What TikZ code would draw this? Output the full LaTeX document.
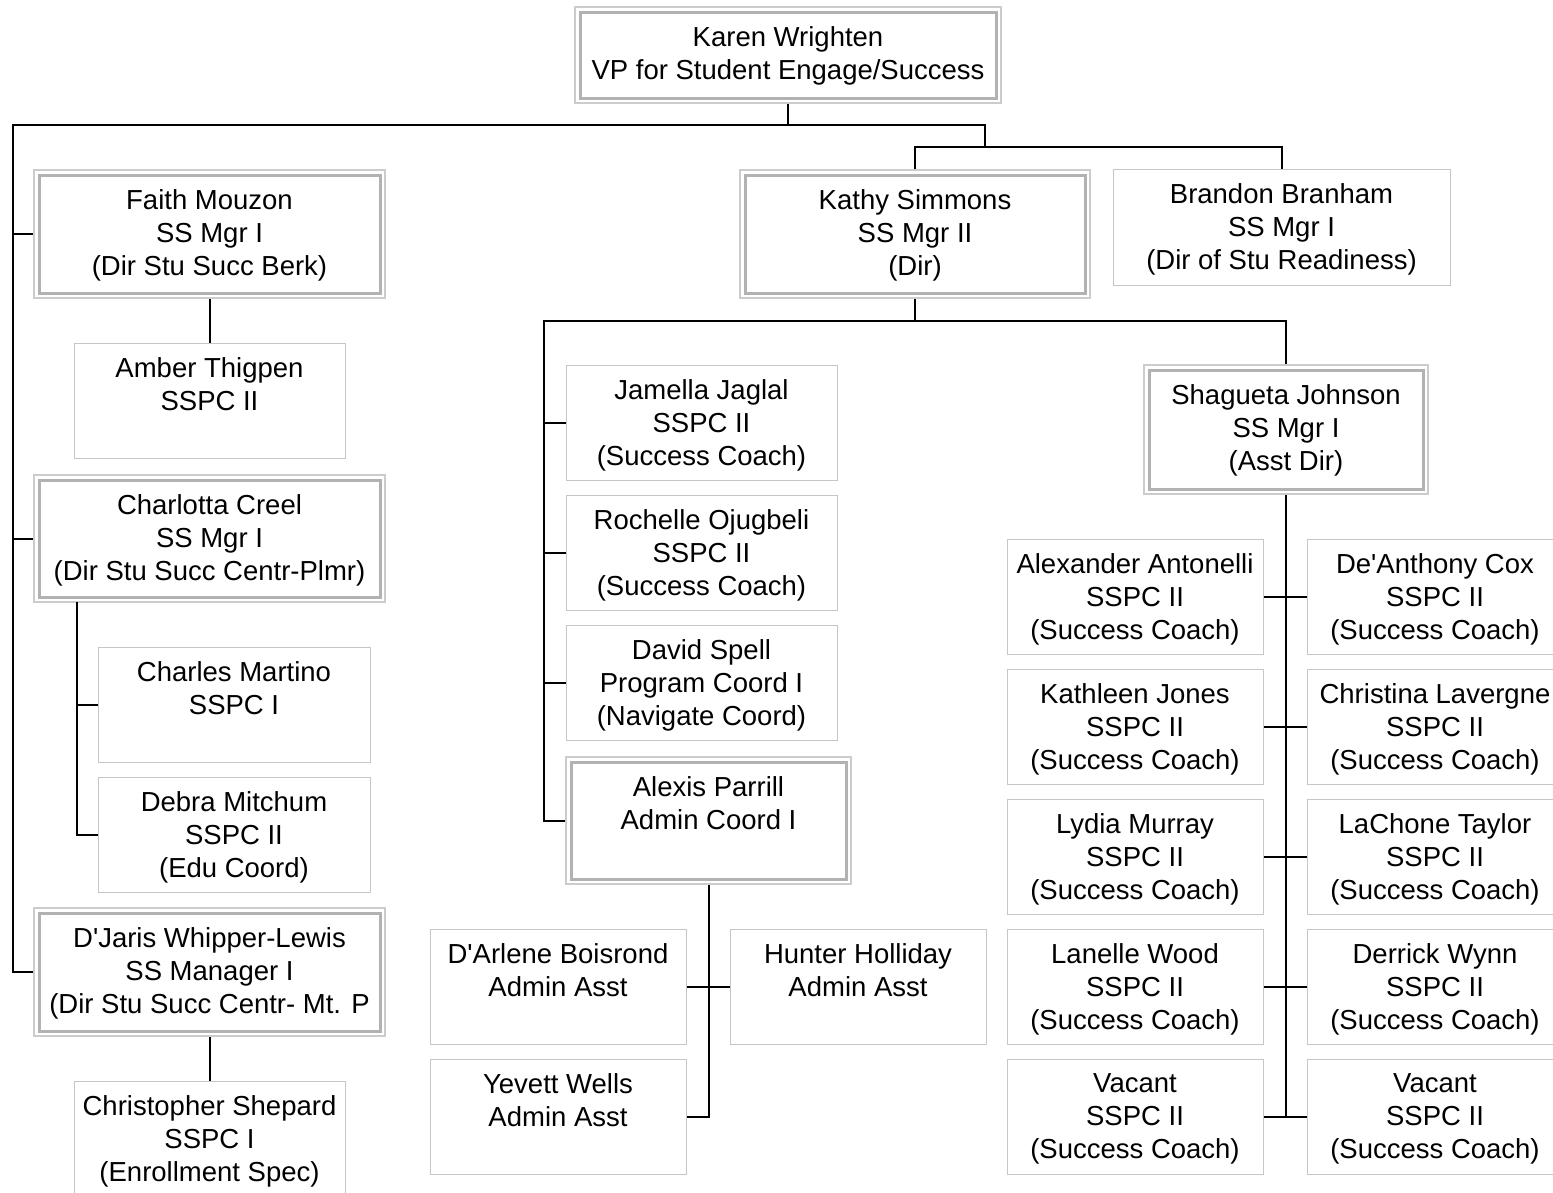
\documentclass[tikz,border=0pt]{standalone}
\usepackage{fontspec}
\setmainfont{Liberation Sans}
\begin{document}
\begin{tikzpicture}[x=1pt, y=-1pt,
    puesto/.style={draw=gray!45, line width=1pt, inner sep=0pt, minimum width=256pt, minimum height=115pt},
    jefe/.style={puesto, draw=gray!40, line width=1.5pt, minimum height=128pt,
        path picture={\draw[gray!60, line width=3pt] ([shift={(5pt,-5pt)}]path picture bounding box.north west) rectangle ([shift={(-5pt,5pt)}]path picture bounding box.south east);}},
    txt/.style={anchor=north, inner sep=0pt, align=center, yshift=-14.5pt, font=\fontsize{27.5}{33}\selectfont},
    txtj/.style={txt, yshift=-6pt},
    linea/.style={line width=2pt}]
    \useasboundingbox (0,0) rectangle (1553,1192);

    % Vicepresidencia
    \node[jefe, minimum width=426pt, minimum height=96pt, label={[txtj]north:Karen Wrighten\\VP for Student Engage/Success}] (karen) at (788,55) {};

    % Columna izquierda
    \node[jefe, minimum width=351pt, label={[txtj]north:Faith Mouzon\\SS Mgr I\\(Dir Stu Succ Berk)}] (faith) at (209.5,234) {};
    \node[puesto, minimum width=271pt, label={[txt]north:Amber Thigpen\\SSPC II}] (amber) at (209.5,400.5) {};
    \node[jefe, minimum width=351pt, minimum height=127pt, label={[txtj]north:Charlotta Creel\\SS Mgr I\\(Dir Stu Succ Centr-Plmr)}] (charlotta) at (209.5,538.5) {};
    \node[puesto, minimum width=272pt, label={[txt]north:Charles Martino\\SSPC I}] (charles) at (234,704.5) {};
    \node[puesto, minimum width=272pt, label={[txt]north:Debra Mitchum\\SSPC II\\(Edu Coord)}] (debra) at (234,834.5) {};
    \node[jefe, minimum width=351pt, label={[txtj]north:D\textquotesingle Jaris Whipper-Lewis\\SS Manager I\\(Dir Stu Succ Centr- Mt. P}] (djaris) at (209.5,972) {};
    \node[puesto, minimum width=271pt, label={[txt]north:Christopher Shepard\\SSPC I\\(Enrollment Spec)}] (christopher) at (209.5,1138.5) {};

    % Direccion
    \node[jefe, minimum width=350pt, label={[txtj]north:Kathy Simmons\\SS Mgr II\\(Dir)}] (kathy) at (915,234) {};
    \node[puesto, minimum width=337pt, minimum height=116pt, label={[txt]north:Brandon Branham\\SS Mgr I\\(Dir of Stu Readiness)}] (brandon) at (1281.5,227) {};

    % Coaches y coordinacion
    \node[puesto, minimum width=271pt, label={[txt]north:Jamella Jaglal\\SSPC II\\(Success Coach)}] (jamella) at (701.5,422.5) {};
    \node[puesto, minimum width=271pt, label={[txt]north:Rochelle Ojugbeli\\SSPC II\\(Success Coach)}] (rochelle) at (701.5,552.5) {};
    \node[puesto, minimum width=271pt, label={[txt]north:David Spell\\Program Coord I\\(Navigate Coord)}] (david) at (701.5,682.5) {};
    \node[jefe, minimum width=285pt, minimum height=127pt, label={[txtj]north:Alexis Parrill\\Admin Coord I}] (alexis) at (708.5,820.5) {};
    \node[puesto, label={[txt]north:D\textquotesingle Arlene Boisrond\\Admin Asst}] (darlene) at (558,986.5) {};
    \node[puesto, label={[txt]north:Hunter Holliday\\Admin Asst}] (hunter) at (858,986.5) {};
    \node[puesto, label={[txt]north:Yevett Wells\\Admin Asst}] (yevett) at (558,1116.5) {};

    % Subdireccion
    \node[jefe, minimum width=284pt, minimum height=129pt, label={[txtj]north:Shagueta Johnson\\SS Mgr I\\(Asst Dir)}] (shagueta) at (1286,429.5) {};
    \foreach \nom [count=\i] in {Alexander Antonelli, Kathleen Jones, Lydia Murray, Lanelle Wood, Vacant}
        \node[puesto, label={[txt]north:\nom\\SSPC II\\(Success Coach)}] (l\i) at (1135,{596.5+130*(\i-1)}) {};
    \foreach \nom [count=\i] in {De\textquotesingle Anthony Cox, Christina Lavergne, LaChone Taylor, Derrick Wynn, Vacant}
        \node[puesto, label={[txt]north:\nom\\SSPC II\\(Success Coach)}] (r\i) at (1435,{596.5+130*(\i-1)}) {};

    % Lineas de dependencia
    \coordinate (barraK) at (13,125);
    \coordinate (barraD) at (985,147);
    \draw[linea] (karen.south) |- (barraK) |- (djaris.west);
    \draw[linea] (barraK) |- (faith.west);
    \draw[linea] (barraK) |- (charlotta.west);
    \draw[linea] (karen.south |- barraK) -| (barraD);
    \draw[linea] (kathy.north) |- (barraD) -| (brandon.north);

    \draw[linea] (faith.south) -- (amber.north);
    \coordinate (barraC) at (77,602);
    \draw[linea] (barraC) |- (charles.west);
    \draw[linea] (barraC) |- (debra.west);
    \draw[linea] (djaris.south) -- (christopher.north);

    \coordinate (barraS) at (544,321);
    \draw[linea] (kathy.south) |- (barraS) |- (alexis.west);
    \foreach \n in {jamella, rochelle, david}
        \draw[linea] (barraS) |- (\n.west);
    \draw[linea] (barraS) -| (shagueta.north);

    \draw[linea] (alexis.south) |- (yevett.east);
    \draw[linea] (darlene.east) -- (hunter.west);

    \draw[linea] (shagueta.south) |- (l5.east);
    \foreach \i in {1,...,5}
        \draw[linea] (l\i.east) -- (r\i.west);
\end{tikzpicture}
\end{document}
